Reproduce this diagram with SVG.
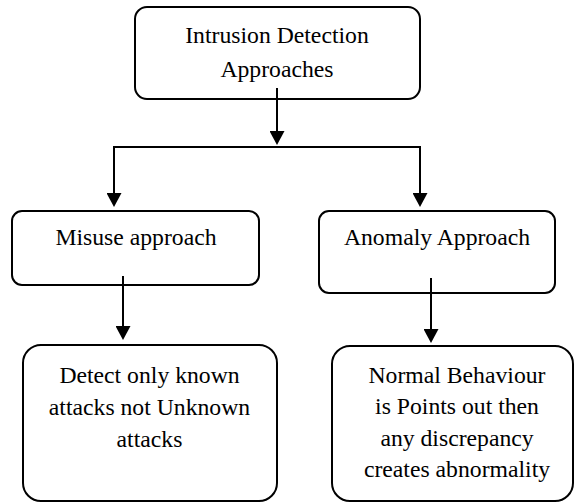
<svg xmlns="http://www.w3.org/2000/svg" width="575" height="503" viewBox="0 0 575 503">
<style>
.box{fill:#fff;stroke:#000;stroke-width:2}
.t{font-family:'Liberation Serif','Times New Roman',serif;font-size:23.7px;fill:#000;text-anchor:middle}
.c{fill:none;stroke:#000;stroke-width:2}
</style>
<defs>
<marker id="ah" viewBox="0 0 14 15" markerWidth="14" markerHeight="15" refX="6" refY="7.5" orient="auto" markerUnits="userSpaceOnUse">
<path d="M0,0 L14,7.5 L0,15 z" fill="#000"/>
</marker>
</defs>
<rect width="575" height="503" fill="#fff"/>
<g id="root">
<rect class="box" x="135" y="7" width="285" height="92" rx="12"/>
<text class="t" x="277" y="43">Intrusion Detection</text>
<text class="t" x="277" y="76.5">Approaches</text>
</g>
<g id="misuse">
<rect class="box" x="12" y="211" width="247" height="74" rx="10"/>
<text class="t" x="136" y="245">Misuse approach</text>
</g>
<g id="anomaly">
<rect class="box" x="319" y="211" width="236" height="82" rx="10"/>
<text class="t" x="437" y="245">Anomaly Approach</text>
</g>
<g id="misuse-detail">
<rect class="box" x="23" y="345" width="254" height="156" rx="18"/>
<text class="t" x="149.5" y="383">Detect only known</text>
<text class="t" x="149.5" y="415">attacks not Unknown</text>
<text class="t" x="149.5" y="447">attacks</text>
</g>
<g id="anomaly-detail">
<rect class="box" x="332" y="346" width="241" height="155" rx="18"/>
<text class="t" x="457" y="383">Normal Behaviour</text>
<text class="t" x="457" y="414">is Points out then</text>
<text class="t" x="457" y="446">any discrepancy</text>
<text class="t" x="457" y="477">creates abnormality</text>
</g>
<g id="connectors">
<path class="c" d="M114,147 H420"/>
<path class="c" d="M277,88 V137" marker-end="url(#ah)"/>
<path class="c" d="M114,146 V199" marker-end="url(#ah)"/>
<path class="c" d="M420,146 V199" marker-end="url(#ah)"/>
<path class="c" d="M123,276 V332" marker-end="url(#ah)"/>
<path class="c" d="M431,278 V335" marker-end="url(#ah)"/>
</g>
</svg>
